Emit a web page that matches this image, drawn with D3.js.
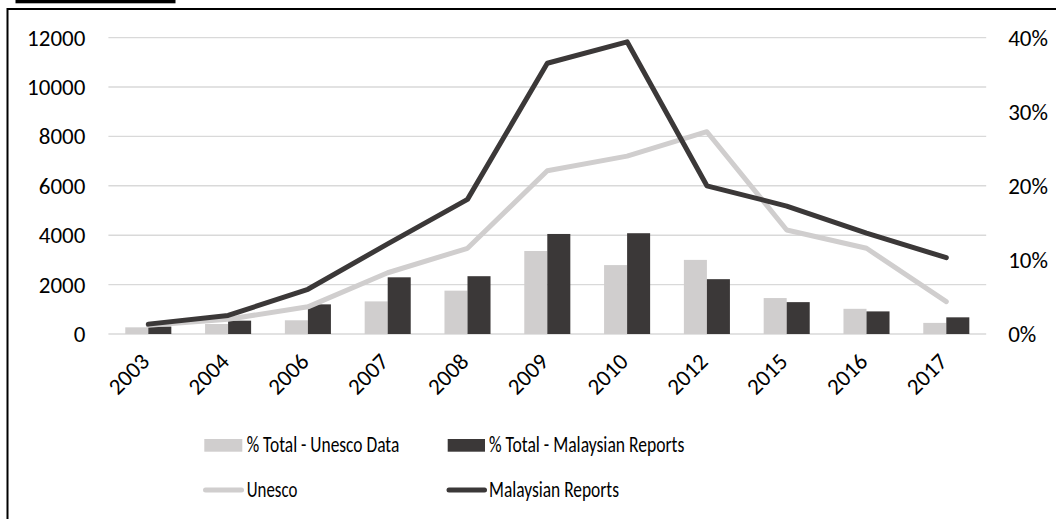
<!DOCTYPE html>
<html><head><meta charset="utf-8">
<script src="https://cdn.jsdelivr.net/npm/d3@7"></script>
<style>
html,body{margin:0;padding:0;background:#fff;}
svg{display:block;}
text{font-family:Carlito, Lato, "Open Sans", sans-serif;fill:#000;font-weight:400;}
</style></head>
<body><svg id="c" width="1056" height="519"></svg>
<script>
const years = ["2003","2004","2006","2007","2008","2009","2010","2012","2015","2016","2017"];
const pctUnesco = [0.9,1.35,1.85,4.4,5.85,11.2,9.3,10.0,4.85,3.4,1.5];
const pctMalaysian = [1.0,1.8,4.0,7.65,7.8,13.5,13.6,7.4,4.3,3.05,2.25];
const unesco = [350,600,1100,2480,3470,6610,7200,8190,4210,3470,1310];
const malaysian = [400,750,1810,3650,5450,10960,11830,6000,5180,4080,3090];
const leftTicks = [0,2000,4000,6000,8000,10000,12000];
const rightTicks = [0,10,20,30,40];
const legendItems = ["% Total - Unesco Data","% Total - Malaysian Reports","Unesco","Malaysian Reports"];

const LIGHT = "#d0cece", DARK = "#3b3838", GRID = "#d9d9d9";
const FS = 23;
const svg = d3.select("#c");
svg.append("rect").attr("width",1056).attr("height",519).attr("fill","#fff");
// frame and top bar
svg.append("rect").attr("x",15.5).attr("y",0).attr("width",160).attr("height",3.3).attr("fill","#000");
svg.append("rect").attr("x",7.5).attr("y",9).attr("width",1070).attr("height",540)
  .attr("fill","none").attr("stroke","#000").attr("stroke-width",2);

const x = d3.scaleBand().domain(years).range([108.4,986.2]).paddingInner(0).paddingOuter(0);
const yL = d3.scaleLinear().domain([0,12000]).range([334,37.6]);
const yR = d3.scaleLinear().domain([0,40]).range([334,37.6]);
const inner = d3.scaleBand().domain(["u","m"]).range([0, x.bandwidth()*0.577]);
const cx = d => x(d) + x.bandwidth()/2;

// gridlines
svg.append("g").selectAll("line").data(leftTicks).join("line")
  .attr("x1",108.4).attr("x2",986.2)
  .attr("y1",d=>yL(d)).attr("y2",d=>yL(d))
  .attr("stroke",GRID).attr("stroke-width",1.4);

// left axis
const gl = svg.append("g").attr("transform","translate(108.4,0)")
  .call(d3.axisLeft(yL).tickValues(leftTicks).tickSize(0).tickPadding(23).tickFormat(d3.format("d")));
gl.select(".domain").remove();
gl.selectAll("text").attr("font-size",FS).attr("dy","0.33em");
gl.attr("font-family",null).attr("font-size",null);

// right axis
const gr = svg.append("g").attr("transform","translate(986.2,0)")
  .call(d3.axisRight(yR).tickValues(rightTicks).tickSize(0).tickPadding(22).tickFormat(d=>d+"%"));
gr.select(".domain").remove();
gr.selectAll("text").attr("font-size",FS).attr("dy","0.33em");
gr.attr("font-family",null).attr("font-size",null);

// bars
const bars = svg.append("g");
years.forEach((yr,i)=>{
  const base = cx(yr) - inner.range()[1]/2;
  bars.append("rect").attr("x",base+inner("u")).attr("width",inner.bandwidth())
    .attr("y",yR(pctUnesco[i])).attr("height",yR(0)-yR(pctUnesco[i])).attr("fill",LIGHT);
  bars.append("rect").attr("x",base+inner("m")).attr("width",inner.bandwidth())
    .attr("y",yR(pctMalaysian[i])).attr("height",yR(0)-yR(pctMalaysian[i])).attr("fill",DARK);
});

// lines
const line = d3.line().x((d,i)=>cx(years[i])).y(d=>yL(d));
svg.append("path").datum(unesco).attr("d",line).attr("fill","none")
  .attr("stroke",LIGHT).attr("stroke-width",5).attr("stroke-linejoin","round").attr("stroke-linecap","round");
svg.append("path").datum(malaysian).attr("d",line).attr("fill","none")
  .attr("stroke",DARK).attr("stroke-width",5).attr("stroke-linejoin","round").attr("stroke-linecap","round");

// x labels
const gx = svg.append("g");
years.forEach(yr=>{
  gx.append("text").attr("transform",`translate(${cx(yr)+2.4},363) rotate(-45)`)
    .attr("text-anchor","end").attr("font-size",FS).text(yr);
});

// legend
const lg = svg.append("g");
const fitText = (sel, w) => { const n = sel.node(); if (Math.abs(n.getComputedTextLength()-w) > 2) sel.attr("textLength",w).attr("lengthAdjust","spacingAndGlyphs"); };
lg.append("rect").attr("x",204.3).attr("y",439).attr("width",38).attr("height",12.7).attr("fill",LIGHT);
fitText(lg.append("text").attr("x",246.7).attr("y",452.3).attr("font-size",FS).text(legendItems[0]),152.6);
lg.append("rect").attr("x",447.7).attr("y",439).attr("width",37.3).attr("height",12.7).attr("fill",DARK);
fitText(lg.append("text").attr("x",489).attr("y",452.3).attr("font-size",FS).text(legendItems[1]),195.3);
lg.append("line").attr("x1",205.5).attr("x2",241.5).attr("y1",490).attr("y2",490)
  .attr("stroke",LIGHT).attr("stroke-width",5).attr("stroke-linecap","round");
fitText(lg.append("text").attr("x",246.7).attr("y",497.3).attr("font-size",FS).text(legendItems[2]),50.6);
lg.append("line").attr("x1",449).attr("x2",484.5).attr("y1",490).attr("y2",490)
  .attr("stroke",DARK).attr("stroke-width",5).attr("stroke-linecap","round");
fitText(lg.append("text").attr("x",489).attr("y",497.3).attr("font-size",FS).text(legendItems[3]),130);
</script></body></html>
